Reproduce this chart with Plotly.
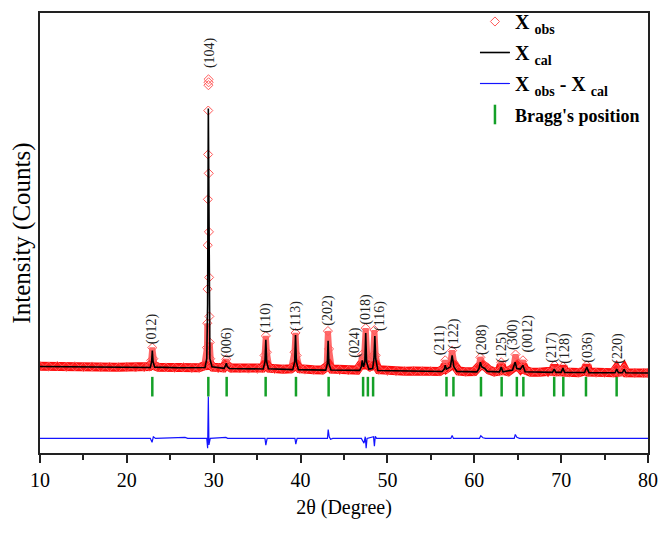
import plotly.graph_objects as go

# ---------------- data ----------------
obs_x = [10.0, 11.0, 12.0, 13.0, 14.0, 15.0, 16.0, 17.0, 18.0, 19.0, 20.0, 21.0, 22.0,
         22.6, 22.8, 22.93, 23.05, 23.2, 23.6, 24.5, 25.5, 26.5, 27.5, 28.3, 28.9,
         29.22, 29.26, 29.29, 29.31, 29.33, 29.35, 29.37, 29.39, 29.40, 29.41,
         29.43, 29.45, 29.47, 29.50, 29.54, 29.6, 29.7, 29.9, 30.5, 31.1, 31.3, 31.45, 31.6,
         32.0, 33.0, 34.0, 35.0, 35.6, 35.85, 36.0, 36.12, 36.4, 37.0, 38.0, 38.9,
         39.3, 39.42, 39.55, 39.9, 40.5, 41.5, 42.5, 43.0, 43.15, 43.28, 43.6, 44.5,
         45.5, 46.5, 46.9, 47.1, 47.3, 47.5, 47.7, 48.0, 48.35, 48.5, 48.65, 49.0,
         50.0, 51.0, 52.0, 53.0, 54.0, 55.0, 56.0, 56.5, 56.65, 56.85, 57.2, 57.45,
         57.7, 58.2, 59.0, 60.0, 60.5, 60.7, 60.95, 61.3, 61.7, 62.3, 62.9, 63.1,
         63.3, 63.9, 64.5, 64.75, 64.95, 65.3, 65.6, 65.85, 66.5, 67.5, 68.5, 69.05,
         69.25, 69.45, 69.9, 70.2, 70.45, 71.0, 72.0, 72.7, 72.95, 73.2, 74.0, 75.0,
         76.0, 76.35, 76.6, 77.0, 77.25, 77.5, 78.5, 79.5, 80.0]
obs_y = [1070, 1060, 1075, 1050, 1065, 1045, 1060, 1040, 1050, 1035, 1045, 1030, 1040,
         1060, 1250, 1640, 1300, 1080, 1040, 1030, 1020, 1035, 1015, 1020, 1080,
         1640, 2390, 3440, 4790, 6200, 7580, 8930, 9710, 9890, 9800,
         7000, 5200, 3800, 2600, 1800, 1300, 1100, 1040, 1010, 1020, 1150, 1280, 1080,
         1010, 1000, 995, 990, 1010, 1400, 2000, 1500, 1010, 985, 975, 990,
         1500, 2090, 1400, 990, 965, 960, 955, 1050, 2150, 1600, 980, 950,
         945, 950, 1100, 1430, 1300, 2240, 1250, 1050, 1400, 2180, 1400, 960,
         925, 920, 915, 918, 910, 912, 905, 1000, 1250, 1000, 1100, 1550,
         1150, 920, 900, 905, 1050, 1340, 1150, 1050, 950, 895, 920, 1190,
         940, 900, 1050, 1430, 1150, 1000, 1250, 950, 885, 880, 878, 920,
         1100, 900, 905, 1060, 890, 875, 872, 920, 1100, 890, 868, 866,
         870, 1000, 880, 900, 1000, 870, 862, 860, 862]

cal_x = [10, 20, 22.7, 22.85, 22.93, 23.02, 23.2, 26, 29.0, 29.2, 29.3, 29.38, 29.46,
         29.56, 29.8, 31.2, 31.35, 31.45, 31.55, 31.8, 35.7, 35.9, 36.0, 36.1, 36.3,
         39.1, 39.32, 39.42, 39.52, 39.75, 42.9, 43.08, 43.17, 43.26, 43.5, 46.8, 47.0,
         47.1, 47.25, 47.4, 47.5, 47.6, 47.85, 48.3, 48.45, 48.55, 48.65, 48.9, 56.3,
         56.55, 56.65, 56.8, 57.25, 57.45, 57.65, 58.0, 60.3, 60.55, 60.7, 60.85, 61.2,
         61.5, 62.9, 63.1, 63.3, 64.4, 64.7, 64.9, 65.3, 65.6, 65.85, 69.0, 69.2, 69.4,
         70.0, 70.2, 70.4, 72.7, 72.95, 73.2, 76.2, 76.4, 76.6, 77.05, 77.25, 77.45, 80]
cal_y = [1060, 1035, 1030, 1200, 1550, 1200, 1040, 1020, 1030, 1300, 3000, 8990, 3000,
         1300, 1050, 1005, 1080, 1160, 1060, 1000, 985, 1200, 1880, 1200, 990,
         965, 1200, 2030, 1200, 965, 950, 1150, 1850, 1150, 950, 940, 1050,
         1250, 1050, 1200, 2090, 1200, 980, 1000, 1300, 2000, 1300, 935, 905,
         980, 1100, 980, 1050, 1400, 1050, 910, 895, 1000, 1190, 1050, 1000,
         910, 895, 1040, 895, 950, 1190, 1000, 980, 1100, 900, 880, 980, 880,
         880, 1010, 878, 875, 1040, 872, 868, 980, 868, 866, 975, 866, 860]

diff_x = [10, 15, 20, 22.7, 22.9, 23.05, 23.3, 26.7, 27, 29.2, 29.3, 29.38, 29.45, 29.6,
          31.4, 31.6, 35.9, 36.0, 36.15, 39.35, 39.45, 39.6, 43.1, 43.18, 43.3, 43.45,
          43.7, 47.0, 47.3, 47.45, 47.55, 47.65, 48.4, 48.5, 48.6, 48.75, 57.3, 57.45,
          57.6, 60.6, 60.75, 61.0, 61.3, 64.6, 64.72, 64.9, 65.2, 80]
diff_y = [-1150, -1150, -1150, -1150, -1270, -1100, -1150, -1120, -1150, -1150, -1450, 140, -1350, -1150,
          -1120, -1150, -1150, -1360, -1150, -1150, -1330, -1150, -1150, -880, -1100, -1180,
          -1150, -1150, -1300, -1100, -1450, -1150, -1100, -1390, -1090, -1150, -1150, -1060,
          -1150, -1150, -1070, -1130, -1150, -1150, -1030, -1120, -1150, -1150]

bragg_x = [22.93, 29.38, 31.49, 35.98, 39.47, 43.23, 47.2, 47.75, 48.35, 56.8, 57.6,
           60.77, 63.15, 64.9, 65.65, 69.2, 70.25, 72.86, 76.39]
bragg_level = 440

hkl = ["(012)", "(104)", "(006)", "(110)", "(113)", "(202)", "(024)", "(018)", "(116)",
       "(211)", "(122)", "(208)", "(125)", "(300)", "(0012)", "(217)", "(128)", "(036)", "(220)"]
label_x = [22.89, 29.57, 31.53, 36.02, 39.47, 43.16, 46.27, 47.53, 49.14, 56.05, 57.66,
           60.89, 63.19, 64.46, 66.18, 68.95, 70.44, 73.09, 76.54]
label_y = [1700, 10190, 1250, 2030, 2090, 2240, 1250, 2300, 2090, 1340, 1550,
           1340, 1130, 1490, 1430, 1100, 1100, 1130, 1100]

x_ticks = [10, 20, 30, 40, 50, 60, 70, 80]

SERIF = "Liberation Serif"

fig = go.Figure()

# red band formed by the dense observed markers
band_low = [min(v, 1110) for v in obs_y]
band_peaks = [v if v < 2500 else None for v in obs_y]
fig.add_trace(go.Scatter(x=obs_x, y=band_low, mode="lines",
                         line=dict(color="rgb(255,10,10)", width=9),
                         showlegend=False, hoverinfo="skip"))
fig.add_trace(go.Scatter(x=obs_x, y=band_peaks, mode="lines", connectgaps=False,
                         line=dict(color="rgba(255,40,40,0.7)", width=6),
                         showlegend=False, hoverinfo="skip"))
fig.add_trace(go.Scatter(x=obs_x, y=obs_y, mode="markers", name="<b>X <sub>obs</sub></b>",
                         legendgroup="a",
                         marker=dict(symbol="diamond-open", size=7, color="rgb(255,90,90)",
                                     line=dict(width=1))))
fig.add_trace(go.Scatter(x=cal_x, y=cal_y, mode="lines", name="<b>X <sub>cal</sub></b>",
                         legendgroup="b",
                         line=dict(color="black", width=1.6)))
fig.add_trace(go.Scatter(x=diff_x, y=diff_y, mode="lines",
                         name="<b>X <sub>obs</sub> - X <sub>cal</sub></b>",
                         legendgroup="c",
                         line=dict(color="rgb(20,20,255)", width=1.2)))
fig.add_trace(go.Scatter(x=bragg_x, y=[bragg_level] * len(bragg_x), mode="markers",
                         name="<b><span style='font-size:18px'>Bragg's position</span></b>",
                         legendgroup="d",
                         marker=dict(symbol="line-ns", size=14, color="rgb(20,160,40)",
                                     line=dict(width=2.5, color="rgb(20,160,40)"))))

for t, lx, ly in zip(hkl, label_x, label_y):
    fig.add_annotation(x=lx, y=ly, text=t, textangle=-90, showarrow=False,
                       xanchor="center", yanchor="bottom",
                       font=dict(family=SERIF, size=14, color="#222"))

fig.update_layout(
    width=661, height=539,
    margin=dict(l=40, r=13, t=2, b=86),
    plot_bgcolor="white", paper_bgcolor="white",
    font=dict(family=SERIF, color="black"),
    legend=dict(x=0.995, y=1.025, xanchor="right", yanchor="top",
                bgcolor="rgba(0,0,0,0)", tracegroupgap=2,
                font=dict(family=SERIF, size=20, color="black"),
                itemwidth=30),
    xaxis=dict(range=[10, 80], tickvals=x_ticks, ticks="outside", ticklen=8, tickwidth=1.5,
               tickcolor="#222", showline=True, linewidth=2, linecolor="#222", mirror=True,
               showgrid=False, zeroline=False,
               minor=dict(dtick=5, ticks="outside", ticklen=5, tickwidth=1.5, tickcolor="#222"),
               tickfont=dict(family=SERIF, size=20, color="black"),
               title=dict(text="2θ (Degree)", font=dict(family=SERIF, size=20, color="black"),
                          standoff=10)),
    yaxis=dict(range=[-1600, 11930], showticklabels=False, ticks="", showline=True,
               linewidth=2, linecolor="#222", mirror=True, showgrid=False, zeroline=False,
               title=dict(text="Intensity (Counts)", font=dict(family=SERIF, size=25, color="black"),
                          standoff=0)),
)

fig.write_html("out.html")
